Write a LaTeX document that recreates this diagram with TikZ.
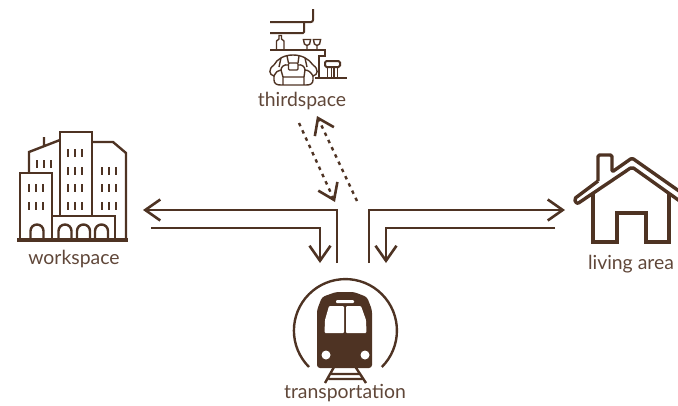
\documentclass[tikz,border=0pt]{standalone}
\usepackage{fontspec}
\setmainfont{Lato}
\usetikzlibrary{arrows.meta}
\definecolor{umber}{HTML}{4E3323}
\tikzset{icon/.style={draw=umber,line width=2.4pt,line join=miter},thick icon/.style={icon,line width=3.2pt},fine icon/.style={icon,line width=1.4pt},
tag/.style={font=\fontsize{19.4}{22}\selectfont,text=umber!90,anchor=base,inner sep=0pt},
flow/.style={-{Straight Barb[length=15pt,width=21pt,line width=2.6pt]},draw=umber,line width=2.1pt},
dottedflow/.style={flow,line width=2.4pt,dash pattern=on 3.5pt off 4.5pt},
pane/.style={fill=white,draw=none}}
\begin{document}
\begin{tikzpicture}[x=1pt,y=-1pt]
\useasboundingbox (0,0) rectangle (678,405);
\node[tag] (third) at (302,106) {thirdspace};
\node[tag] (work) at (74,264) {workspace};
\node[tag] (home) at (631,269) {living area};
\node[tag] (train) at (345,398) {transportation};
% ends of the connectors
\coordinate (workout) at (337,263);\coordinate (workcorner) at (337,210);\coordinate (workin) at (143,210);
\coordinate (workback) at (151,228);\coordinate (workturn) at (320,228);\coordinate (workdown) at (320,263);
\coordinate (homeout) at (369,263);\coordinate (homecorner) at (369,210);\coordinate (homein) at (565,210);
\coordinate (homeback) at (555,228);\coordinate (hometurn) at (386,228);\coordinate (homedown) at (386,263);
\coordinate (thirdout) at (299,123);\coordinate (thirdend) at (335,202);
\coordinate (hubout) at (357,201);\coordinate (hubend) at (317,116);
\draw[flow] (workout)--(workcorner)--(workin);
\draw[flow] (workback)--(workturn)--(workdown);
\draw[flow] (homeout)--(homecorner)--(homein);
\draw[flow] (homeback)--(hometurn)--(homedown);
\draw[dottedflow] (thirdout)--(thirdend);
\draw[dottedflow] (hubout)--(hubend);
% thirdspace
\draw[icon,line width=2pt,rounded corners=2pt] (313,9)--(313,22)--(270,22);
\draw[icon,line width=2pt,rounded corners=1pt] (304,22)--(304,33)--(270,33);
\draw[icon,line width=2pt] (270,49.5)--(325,49.5)--(325,56)--(319,56)--(319,77.5);
\draw[icon,line width=2pt] (315,77.5)--(347,77.5);
\draw[fine icon] (276.5,49)--(276.5,41)--(279,39)--(279,35.5)--(281.5,35.5)--(281.5,39)--(284,41)--(284,49);
\foreach \gx in {307,317}{\draw[fine icon] (\gx-3.6,39.5)--(\gx+3.6,39.5)--(\gx+2.6,44)--(\gx,45.5)--(\gx-2.6,44)--cycle (\gx,45.5)--(\gx,49.5);}
\draw[icon,line width=2pt,rounded corners=1.5pt] (325,67)--(325,61)--(340,61)--(340,67)--cycle;
\draw[fine icon] (327.5,67)--(327.5,77) (337.5,67)--(337.5,77) (331.5,67)--(331.5,77) (334,67)--(334,77);
\draw[fine icon] (274,65) .. controls (277,59) and (284,55) .. (293,55) .. controls (302,55) and (309,59) .. (313,65);
\draw[fine icon,rounded corners=1pt] (288.5,63)--(298,63)--(298,70)--(288.5,70)--cycle;
\draw[fine icon] (274,65) .. controls (268,69) and (269,75) .. (274,76) .. controls (276,72) and (278,70) .. (281,70) .. controls (281,67) and (284,64) .. (288.5,65);
\draw[fine icon] (313,65) .. controls (319,69) and (318,75) .. (313,76) .. controls (311,72) and (308,70) .. (305,70) .. controls (305,67) and (302,64) .. (298,65);
\draw[fine icon] (281,58)--(279,67) (305,58)--(307,67) (287,56)--(288.5,63) (299,56)--(298,63);
\draw[fine icon] (281,70)--(283,77)--(304,77)--(305,70) (274,76)--(274,80) .. controls (274,84) and (277,85) .. (281,85)--(306,85) .. controls (310,85) and (313,84) .. (313,80)--(313,76) (283,77)--(283,85) (304,77)--(304,85);
% workspace
\draw[thick icon] (17,240)--(128,240);
\draw[icon] (20,240)--(20,173)--(52,173)--(52,240);
\draw[icon] (60,216)--(60,132)--(92,132)--(92,216);
\draw[icon] (29,173)--(29,152)--(60,140) (44,146)--(44,137);
\draw[icon] (92,142)--(113,142)--(126,153)--(126,240);
\draw[icon] (52,216)--(115,216)--(115,240);
\foreach \ax in {37,65,83.5,101.5}{\draw[icon] (\ax-6.5,240)--(\ax-6.5,231) arc[start angle=180,end angle=0,radius=6.5pt]--(\ax+6.5,240);}
\foreach \wx/\wy in {68/153,75/153,82/153,68/171,75/171,82/171,68/188,75/188,82/188,68/206,75/206,82/206,37/164,44/164,51/164,29/188,36/188,43/188,29/206,36/206,43/206,102/171,109/171,116/171,102/188,109/188,116/188,102/206,109/206,116/206}{\draw[umber,line width=2.7pt] (\wx,\wy-4)--(\wx,\wy+4);}
% living area
\draw[icon,line width=3.4pt,line join=round,rounded corners=1.5pt] (598,181)--(598,155)--(612,155)--(612,172)--(632,158)--(679,191);
\draw[icon,line width=3.4pt,line join=round,rounded corners=2pt] (598,181)--(574,199)--(577,204)--(632,167)--(679,200.5);
\draw[icon,line width=3.4pt] (593,194)--(593,242)--(617,242)--(617,213)--(646,213)--(646,242)--(669,242)--(669,193);
% transportation
\draw[icon,line width=2.4pt] (309,367) arc[start angle=225,end angle=-45,radius=51.5pt];
\fill[umber,rounded corners=3pt] (336,292)--(354,292)--(367,297)--(372,310)--(372,368)--(317,368)--(317,310)--(322,297)--cycle;
\fill[pane,rounded corners=1pt] (329,306)--(344,306)--(344,333)--(324.5,333)--(325,320)--cycle;
\fill[pane,rounded corners=1pt] (346,306)--(361,306)--(366,320)--(366.5,333)--(346,333)--cycle;
\fill[pane,rounded corners=1pt] (336,300)--(354,300)--(354,303)--(336,303)--cycle;
\fill[pane] (326,355) circle[radius=4.5pt] (365,355) circle[radius=4.5pt];
\draw[icon] (334,367)--(325,383) (355.5,367)--(366,383) (331,374)--(359,374) (328.5,379)--(362,379);
\end{tikzpicture}
\end{document}
